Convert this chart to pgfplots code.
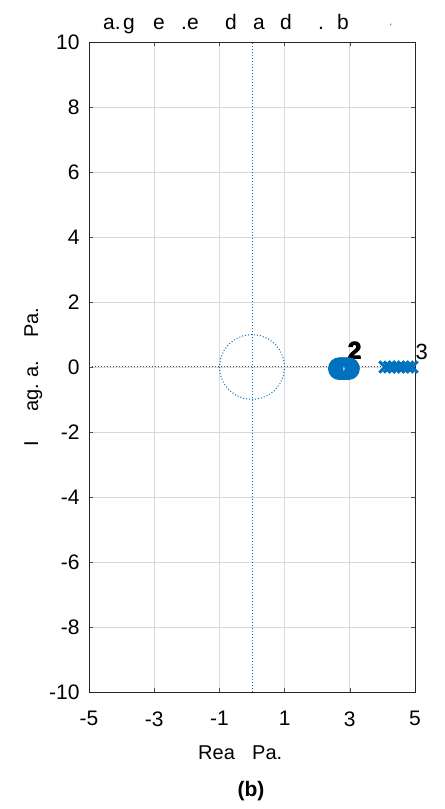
\documentclass[border=0pt]{standalone}
\usepackage{fontspec}
\setmainfont{Liberation Sans}
\usepackage{pgfplots}
\pgfplotsset{compat=1.18}
\definecolor{mblue}{rgb}{0,0.447,0.741}
\begin{document}
\begin{tikzpicture}
\begin{axis}[
  scale only axis,
  width=326pt, height=650pt,
  xmin=-5, xmax=5, ymin=-10, ymax=10,
  xtick={-5,-3,-1,1,3,5},
  ytick={-10,-8,-6,-4,-2,0,2,4,6,8,10},
  grid=major,
  major grid style={gray!30, line width=0.8pt},
  axis line style={line width=0.8pt, black!85},
  tick style={black!70, line width=0.6pt},
  tick align=inside,
  major tick length=4pt,
  every tick label/.append style={font=\fontsize{21}{24}\selectfont},
  /pgf/number format/assume math mode=true,
  xticklabel style={yshift=-16pt},
  yticklabel style={xshift=-6pt},
  clip=false,
]
% axes lines
\addplot[mblue, dotted, line width=1pt] coordinates {(0,-10) (0,10)};
\addplot[black!70, dotted, line width=1pt] coordinates {(-5,0) (5,0)};
% unit circle (points)
\addplot[mblue, dotted, line width=1pt] coordinates {
(1,0) (0.966,0.259) (0.866,0.5) (0.707,0.707) (0.5,0.866) (0.259,0.966) (0,1)
(-0.259,0.966) (-0.5,0.866) (-0.707,0.707) (-0.866,0.5) (-0.966,0.259) (-1,0)
(-0.966,-0.259) (-0.866,-0.5) (-0.707,-0.707) (-0.5,-0.866) (-0.259,-0.966) (0,-1)
(0.259,-0.966) (0.5,-0.866) (0.707,-0.707) (0.866,-0.5) (0.966,-0.259) (1,0)};
% zeros
\addplot[only marks, mark=o, mblue, mark size=8.3pt, mark options={line width=6pt}] coordinates {
(2.68,-0.05) (2.75,-0.05) (2.82,-0.05) (2.89,-0.05) (2.96,-0.05)};
% poles
\addplot[only marks, mark=x, mblue, mark size=8pt, mark options={line width=3pt}] coordinates {
(4.08,0) (4.22,0) (4.36,0) (4.50,0) (4.64,0) (4.78,0) (4.91,0)};
\node[font=\fontsize{24}{26}\selectfont\bfseries] at (axis cs:3.13,0.49) {2};
\node[font=\fontsize{24}{26}\selectfont\bfseries] at (axis cs:3.17,0.49) {2};
\node[font=\fontsize{24}{26}\selectfont\bfseries] at (axis cs:3.15,0.52) {2};
\node[font=\fontsize{22}{24}\selectfont] at (axis cs:5.21,0.46) {3};
% title (letters placed individually)
\begin{scope}[every node/.style={font=\fontsize{21}{24}\selectfont, anchor=base west, inner sep=0pt}]
\node at (axis cs:-4.571,10.37) {a.};
\node at (axis cs:-3.957,10.37) {g};
\node at (axis cs:-3.037,10.37) {e};
\node at (axis cs:-2.178,10.37) {.e};
\node at (axis cs:-0.828,10.37) {d};
\node at (axis cs:0.031,10.37) {a};
\node at (axis cs:0.859,10.37) {d};
\node at (axis cs:2.025,10.37) {.};
\node at (axis cs:2.607,10.37) {b};
\node[font=\fontsize{8}{8}\selectfont] at (axis cs:4.233,10.37) {`};
\end{scope}
% x label
\begin{scope}[every node/.style={font=\fontsize{20}{24}\selectfont, anchor=base west, inner sep=0pt}]
\node at (axis cs:-1.656,-12.09) {Rea};
\node at (axis cs:0.0,-12.09) {Pa.};
\end{scope}
% y label
\begin{scope}[every node/.style={font=\fontsize{20}{24}\selectfont, anchor=base west, inner sep=0pt, rotate=90}]
\node at (axis cs:-6.564,-2.46) {I};
\node at (axis cs:-6.564,-1.385) {ag.};
\node at (axis cs:-6.564,-0.338) {a.};
\node at (axis cs:-6.564,0.892) {Pa.};
\end{scope}
% (b)
\node[font=\fontsize{21}{24}\selectfont\bfseries] at (axis cs:-0.03,-13.05) {(b)};
\end{axis}
\path ([shift={(-89pt,-117pt)}]current axis.south west) rectangle ([shift={(29pt,42pt)}]current axis.north east);
\end{tikzpicture}
\end{document}
